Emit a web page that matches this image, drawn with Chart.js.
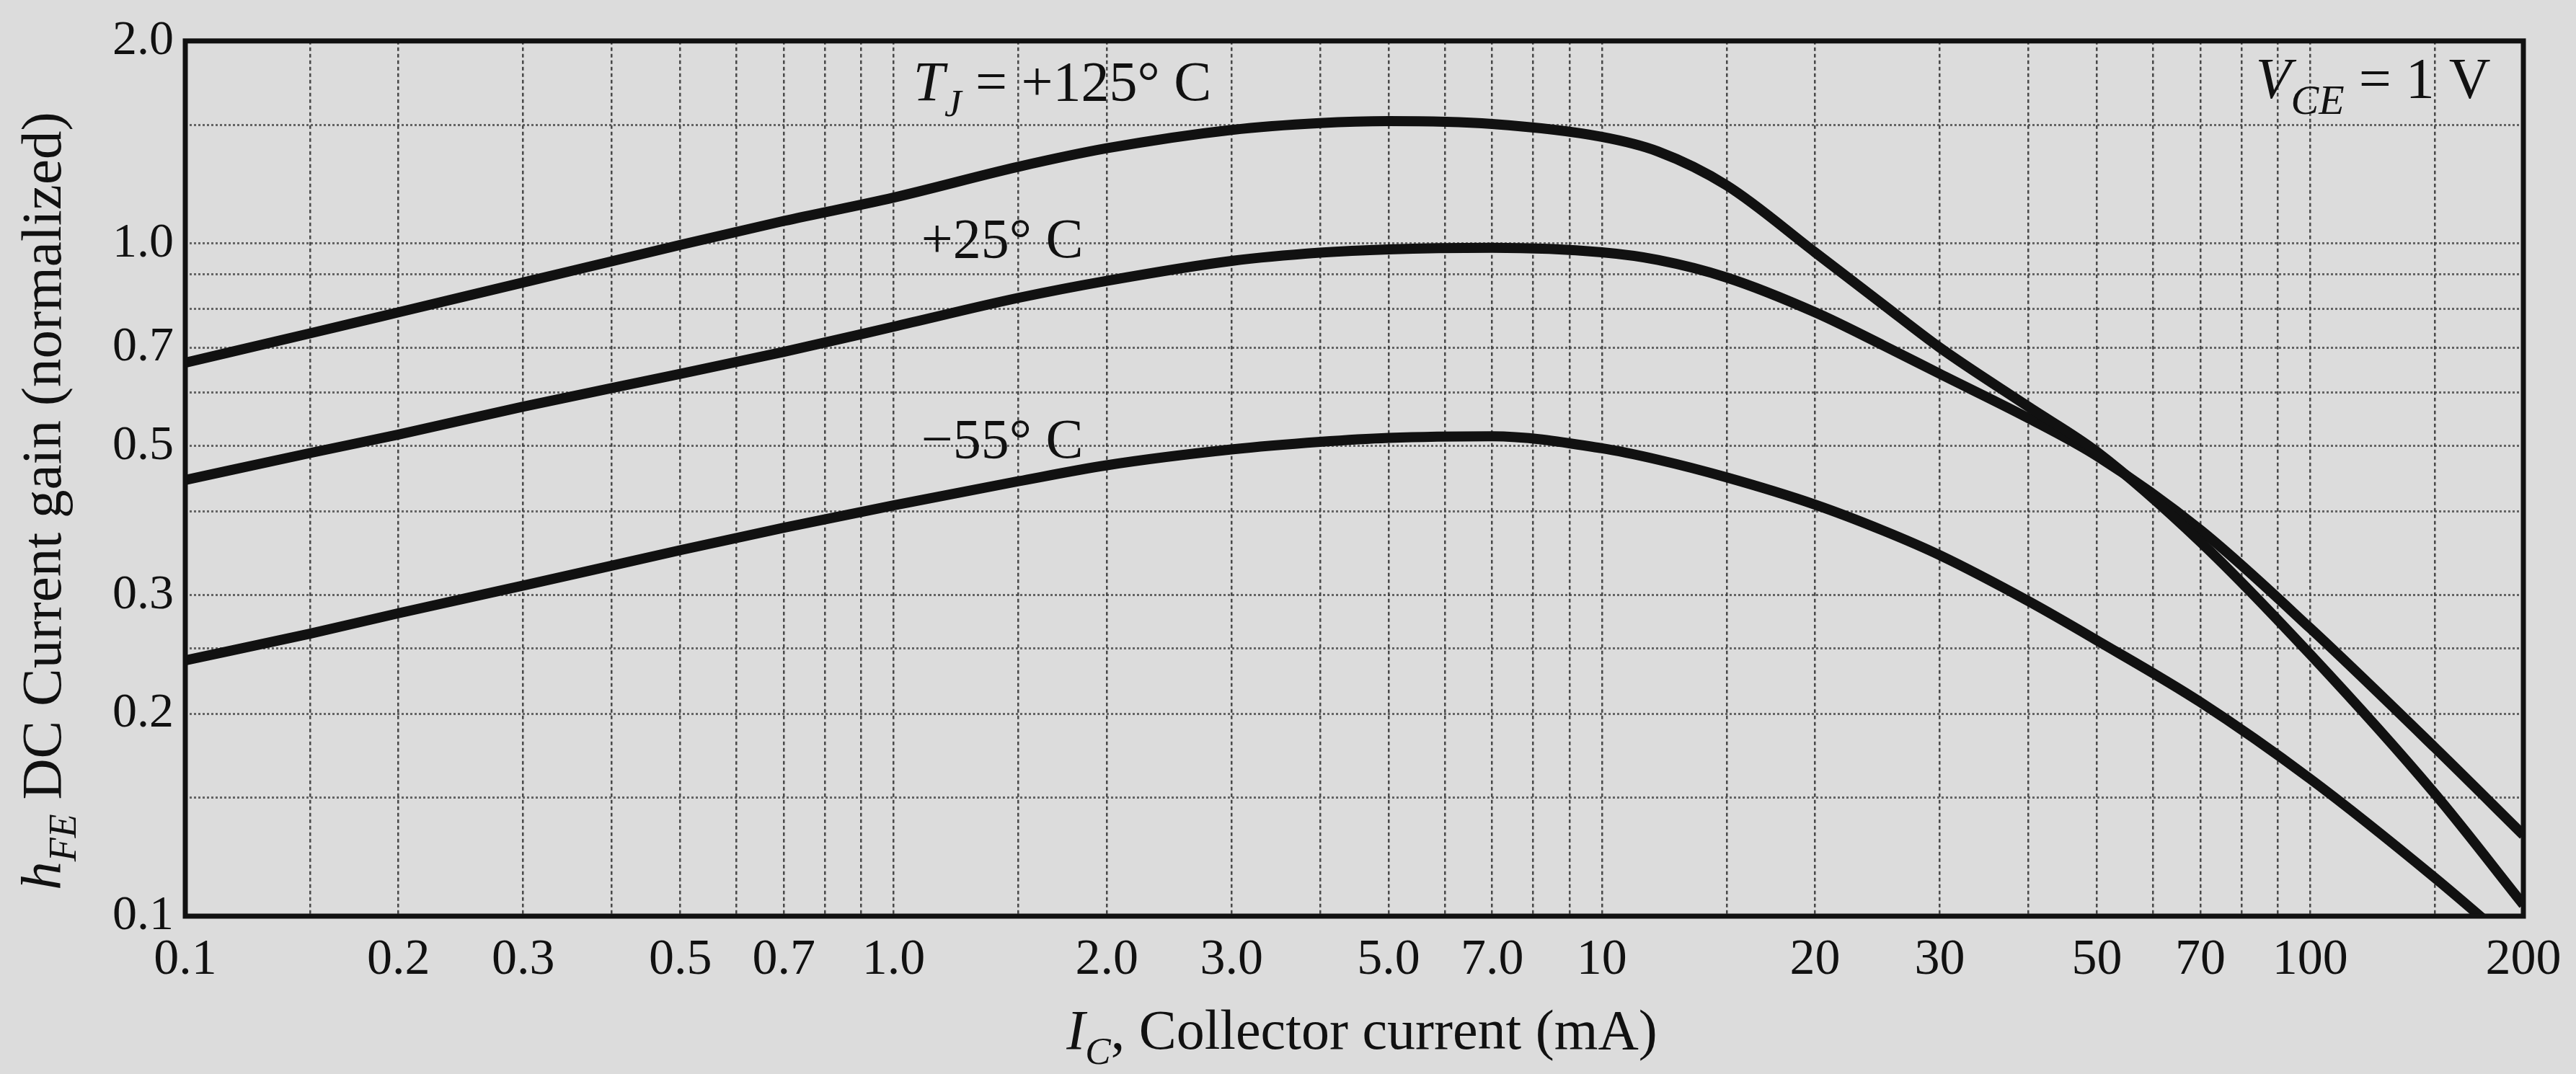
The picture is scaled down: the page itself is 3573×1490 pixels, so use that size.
<!DOCTYPE html>
<html>
<head>
<meta charset="utf-8">
<script src="https://cdn.jsdelivr.net/npm/chart.js@4.4.1/dist/chart.umd.min.js"></script>
<style>
  html, body { margin: 0; padding: 0; background: #dcdcdc; }
  canvas { display: block; }
</style>
</head>
<body>
<canvas id="c" width="3573" height="1490"></canvas>
<script>
// ---------- data ----------
const currentsMA    = [0.1, 0.15, 0.2, 0.3, 0.5, 0.7, 1.0, 1.5, 2.0, 3.0, 4.0, 5.0, 7.0, 10, 12, 15, 20, 25, 30, 40, 50, 70, 100, 150, 200];
const gainTjPlus125 = [0.665, 0.735, 0.79, 0.875, 0.995, 1.08, 1.17, 1.30, 1.385, 1.475, 1.51, 1.52, 1.505, 1.44, 1.37, 1.22, 0.97, 0.81, 0.70, 0.572, 0.49, 0.36, 0.245, 0.152, 0.104];
const gainTjPlus25  = [0.445, 0.488, 0.52, 0.572, 0.64, 0.69, 0.752, 0.83, 0.88, 0.942, 0.969, 0.98, 0.985, 0.97, 0.945, 0.89, 0.79, 0.705, 0.64, 0.55, 0.483, 0.375, 0.268, 0.178, 0.132];
const gainTjMinus55 = [0.24, 0.263, 0.282, 0.31, 0.35, 0.378, 0.408, 0.443, 0.468, 0.494, 0.507, 0.514, 0.517, 0.496, 0.477, 0.449, 0.409, 0.374, 0.344, 0.294, 0.257, 0.208, 0.16, 0.114, 0.088];

const xGridValues = [0.1,0.15,0.2,0.3,0.4,0.5,0.6,0.7,0.8,0.9,1,1.5,2,3,4,5,6,7,8,9,10,15,20,30,40,50,60,70,80,90,100,150,200];
const xTickValues = [0.1, 0.2, 0.3, 0.5, 0.7, 1, 2, 3, 5, 7, 10, 20, 30, 50, 70, 100, 200];
const xTickLabels = ['0.1','0.2','0.3','0.5','0.7','1.0','2.0','3.0','5.0','7.0','10','20','30','50','70','100','200'];
const yGridValues = [0.1,0.15,0.2,0.25,0.3,0.4,0.5,0.6,0.7,0.8,0.9,1,1.5,2];
const yTickValues = [0.1, 0.2, 0.3, 0.5, 0.7, 1, 2];
const yTickLabels = ['0.1','0.2','0.3','0.5','0.7','1.0','2.0'];

// ---------- annotation text (anchored in data units) ----------
const curveNotes = [
  { parts: [['T','i'],['J','is'],[' = +125° C','']], at: [1.066, 1.631] },
  { parts: [['+25° C','']],                         at: [1.094, 0.954] },
  { parts: [['−55° C','']],                         at: [1.094, 0.48] }
];
const conditionNote = { parts: [['V','i'],['CE','is'],[' = 1 V','']], at: [179.8, 1.643] };

const SERIF = '"Liberation Serif", "Times New Roman", serif';
const INK = '#111111';

function labelFor(values, labels, v) {
  for (let i = 0; i < values.length; i++) {
    if (Math.abs(values[i] - v) / values[i] < 1e-6) return labels[i];
  }
  return '';
}
function pts(ys) { return currentsMA.map((x, i) => ({ x: x, y: ys[i] })); }

function drawRich(ctx, parts, x, y, size, align, subScale) {
  const subSize = Math.round(size * (subScale || 0.68));
  const fontOf = st => (st.includes('i') ? 'italic ' : '') + (st.includes('s') ? subSize : size) + 'px ' + SERIF;
  let total = 0;
  const widths = parts.map(([t, st]) => { ctx.font = fontOf(st); const w = ctx.measureText(t).width; total += w; return w; });
  let cx = align === 'right' ? x - total : (align === 'center' ? x - total / 2 : x);
  ctx.textAlign = 'left';
  ctx.textBaseline = 'alphabetic';
  parts.forEach(([t, st], i) => {
    ctx.font = fontOf(st);
    ctx.fillText(t, cx, y + (st.includes('s') ? size * 0.27 : 0));
    cx += widths[i];
  });
}

const paperPlugin = {
  id: 'paper',
  beforeDraw(chart) {
    const ctx = chart.ctx;
    ctx.save();
    ctx.fillStyle = '#dcdcdc';
    ctx.fillRect(0, 0, chart.width, chart.height);
    ctx.restore();
  },
  afterDatasetsDraw(chart) {
    const { ctx, chartArea: a } = chart;
    ctx.save();
    ctx.strokeStyle = INK;
    ctx.lineWidth = 7;
    ctx.strokeRect(a.left, a.top, a.right - a.left, a.bottom - a.top);
    ctx.restore();
  },
  afterDraw(chart) {
    const ctx = chart.ctx;
    const xs = chart.scales.x, ys = chart.scales.y;
    ctx.save();
    ctx.fillStyle = INK;
    curveNotes.forEach(n => {
      drawRich(ctx, n.parts, xs.getPixelForValue(n.at[0]), ys.getPixelForValue(n.at[1]), 78, 'left');
    });
    drawRich(ctx, conditionNote.parts, xs.getPixelForValue(conditionNote.at[0]), ys.getPixelForValue(conditionNote.at[1]), 80, 'right', 0.72);

    // x axis title
    drawRich(ctx, [['I','i'],['C','is'],[', Collector current (mA)','']], 1889, 1455, 78, 'center');

    // y axis title (rotated)
    ctx.translate(84, 695);
    ctx.rotate(-Math.PI / 2);
    drawRich(ctx, [['h','i'],['FE','is'],[' DC Current gain (normalized)','']], 0, 0, 79, 'center');
    ctx.restore();
  }
};

const lineStyle = {
  borderColor: INK,
  borderWidth: 14,
  pointRadius: 0,
  fill: false,
  cubicInterpolationMode: 'monotone',
  clip: 0
};

new Chart(document.getElementById('c'), {
  type: 'line',
  data: {
    datasets: [
      Object.assign({ label: 'TJ = +125° C', data: pts(gainTjPlus125) }, lineStyle),
      Object.assign({ label: '+25° C', data: pts(gainTjPlus25) }, lineStyle),
      Object.assign({ label: '−55° C', data: pts(gainTjMinus55) }, lineStyle)
    ]
  },
  options: {
    responsive: false,
    animation: false,
    devicePixelRatio: 1,
    layout: { padding: { top: 52, right: 73, left: 0, bottom: 0 } },
    plugins: { legend: { display: false }, tooltip: { enabled: false }, title: { display: false } },
    scales: {
      x: {
        type: 'logarithmic',
        min: 0.1, max: 200,
        afterBuildTicks: s => { s.ticks = xGridValues.map(v => ({ value: v })); },
        afterFit: s => { s.height = 219; },
        grid: { color: 'rgba(35,35,35,0.8)', lineWidth: 2.5, drawTicks: false },
        border: { display: false, dash: [5, 4] },
        ticks: {
          autoSkip: false, maxRotation: 0, minRotation: 0, padding: 20,
          color: INK, font: { family: SERIF, size: 70 },
          callback: v => labelFor(xTickValues, xTickLabels, v)
        }
      },
      y: {
        type: 'logarithmic',
        min: 0.1, max: 2,
        afterBuildTicks: s => { s.ticks = yGridValues.map(v => ({ value: v })); },
        afterFit: s => { s.width = 257; },
        grid: { color: 'rgba(60,60,60,0.75)', lineWidth: 3, drawTicks: false },
        border: { display: false, dash: [3, 3] },
        ticks: {
          autoSkip: false, padding: 16,
          color: INK, font: { family: SERIF, size: 68 },
          callback: v => labelFor(yTickValues, yTickLabels, v)
        }
      }
    }
  },
  plugins: [paperPlugin]
});
</script>
</body>
</html>
